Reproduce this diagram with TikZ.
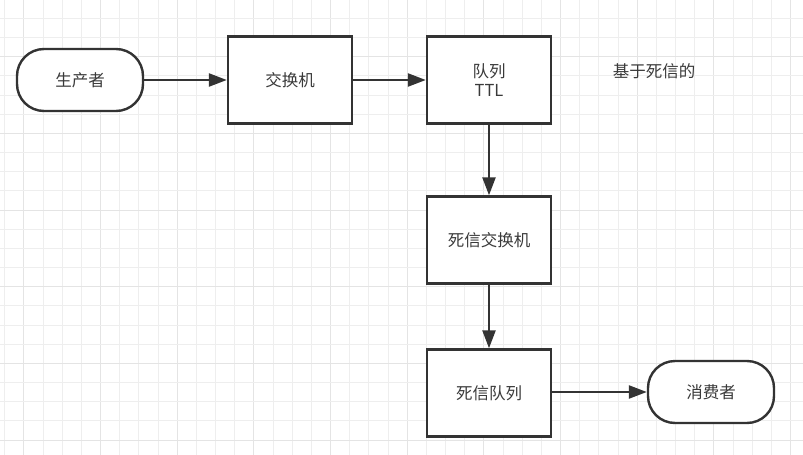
\documentclass[tikz,border=0pt]{standalone}
\usepackage{fontspec}
\setmainfont{Noto Sans CJK SC}
\usetikzlibrary{arrows.meta}
\definecolor{linec}{HTML}{333333}
\definecolor{textc}{HTML}{3A3A3A}
\definecolor{gridminor}{HTML}{EEEEEE}
\definecolor{gridmajor}{HTML}{E4E4E4}
\tikzset{
  boxnode/.style={draw=linec, line width=2.4pt, fill=white, minimum width=124pt, minimum height=87pt, inner sep=0pt, text=textc, font=\fontsize{16.5}{19.5}\selectfont, align=center},
  termnode/.style={draw=linec, line width=2.4pt, fill=white, minimum width=126pt, minimum height=62pt, rounded corners=27pt, inner sep=0pt, text=textc, font=\fontsize{16.5}{19.5}\selectfont},
  plaintext/.style={text=textc, inner sep=0pt, font=\fontsize{16.5}{19.5}\selectfont},
  flowarrow/.style={draw=linec, line width=2.4pt, -{Triangle[length=18pt,width=13pt]}},
}
\begin{document}
\begin{tikzpicture}[x=1pt,y=-1pt]
\fill[white] (0,0) rectangle (803,455);
\useasboundingbox (0,0) rectangle (803,455);
% grid
\foreach \k in {0,...,41} {
  \pgfmathtruncatemacro{\m}{mod(\k,4)}
  \ifnum\m=1
    \draw[gridmajor, line width=1pt] ({4.7+\k*19.17},0) -- ({4.7+\k*19.17},455);
  \else
    \draw[gridminor, line width=1pt] ({4.7+\k*19.17},0) -- ({4.7+\k*19.17},455);
  \fi
}
\foreach \k in {1,...,23} {
  \pgfmathtruncatemacro{\m}{mod(\k,4)}
  \ifnum\m=3
    \draw[gridmajor, line width=1pt] (0,{-0.8+\k*19.17}) -- (803,{-0.8+\k*19.17});
  \else
    \draw[gridminor, line width=1pt] (0,{-0.8+\k*19.17}) -- (803,{-0.8+\k*19.17});
  \fi
}
% nodes
\node[termnode] (prod) at (80,80) {生产者};
\node[boxnode] (ex) at (290,80) {交换机};
\node[boxnode] (q) at (489,80) {队列\\TTL};
\node[plaintext] (note) at (654,71) {基于死信的};
\node[boxnode] (dlx) at (489,240) {死信交换机};
\node[boxnode] (dlq) at (489,393) {死信队列};
\node[termnode] (cons) at (711,392) {消费者};
% connectors
\draw[flowarrow] (prod) -- (ex);
\draw[flowarrow] (ex) -- (q);
\draw[flowarrow] (q) -- (dlx);
\draw[flowarrow] (dlx) -- (dlq);
\draw[flowarrow] (dlq.east |- cons.west) -- (cons.west);
\end{tikzpicture}
\end{document}
